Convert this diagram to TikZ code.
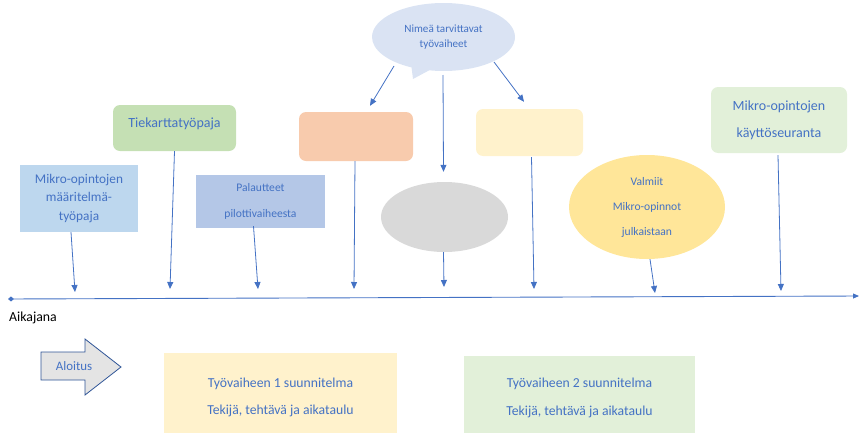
\documentclass[tikz,border=0pt]{standalone}
\usepackage{fontspec}
\setmainfont{Carlito}
\usetikzlibrary{arrows.meta,shapes.geometric,shapes.callouts}
\definecolor{txtblue}{HTML}{4472C4}
\definecolor{cbox1}{HTML}{BDD7EE}
\definecolor{cgreen}{HTML}{C5E0B4}
\definecolor{cpal}{HTML}{B4C7E7}
\definecolor{corange}{HTML}{F8CBAD}
\definecolor{ccall}{HTML}{DAE3F3}
\definecolor{cgray}{HTML}{D9D9D9}
\definecolor{clyellow}{HTML}{FFF2CC}
\definecolor{cyellow}{HTML}{FFE699}
\definecolor{clgreen}{HTML}{E2F0D9}
\definecolor{carrfill}{HTML}{E4E4E4}
\definecolor{carrdraw}{HTML}{2F5597}
\begin{document}
\begin{tikzpicture}[x=1pt,y=-1pt,
  lbl/.style={text=txtblue, align=center, inner sep=0pt},
  boxsq/.style={lbl, rectangle},
  boxrd/.style={lbl, rectangle, rounded corners=7pt},
  conn/.style={draw=txtblue, line width=0.8pt, -{Triangle[width=6pt,length=7pt]}},
]
\useasboundingbox (0,0) rectangle (859,434);

% timeline
\coordinate (tl0) at (8,299);
\coordinate (tl1) at (859,296);
\draw[draw=txtblue, line width=0.9pt, {Diamond[width=5pt,length=6pt]}-{Triangle[width=5pt,length=6pt]}] (tl0) -- (tl1);
\node[anchor=west, inner sep=0pt, font=\fontsize{13.8}{15}\selectfont] (aik) at (9,318) {Aikajana};

% boxes
\node[boxsq, fill=cbox1, minimum width=118pt, minimum height=67pt, font=\fontsize{13.3}{18.5}\selectfont] (b1) at (79,198.5) {Mikro-opintojen\\määritelmä-\\työpaja};
\node[boxrd, fill=cgreen, minimum width=123pt, minimum height=46pt, font=\fontsize{14}{16}\selectfont] (b2) at (174.5,128) {};
\node[lbl, font=\fontsize{14}{16}\selectfont] (b2t) at (174.5,124) {Tiekarttatyöpaja};
\node[boxsq, fill=cpal, minimum width=129pt, minimum height=53pt, font=\fontsize{11.6}{26}\selectfont] (b3) at (260.5,201.5) {Palautteet\\pilottivaiheesta};
\node[boxrd, fill=corange, minimum width=114pt, minimum height=49pt] (b4) at (356,136.5) {};
\node[lbl, ellipse callout, fill=ccall, minimum width=143pt, minimum height=68pt, callout absolute pointer={(413,79)}, font=\fontsize{11.1}{15}\selectfont] (call) at (443.5,37) {Nimeä tarvittavat\\työvaiheet};
\node[lbl, ellipse, fill=cgray, minimum width=127pt, minimum height=70pt] (b5) at (444.5,217) {};
\node[boxrd, fill=clyellow, minimum width=107pt, minimum height=47pt] (b6) at (529.5,132.5) {};
\node[lbl, ellipse, fill=cyellow, minimum width=156pt, minimum height=104pt, font=\fontsize{11.6}{25}\selectfont] (b7) at (647,207) {Valmiit\\Mikro-opinnot\\julkaistaan};
\node[boxrd, fill=clgreen, minimum width=136pt, minimum height=66pt, font=\fontsize{14}{27}\selectfont] (b8) at (779,120) {Mikro-opintojen\\käyttöseuranta};

\node[boxsq, fill=clyellow, minimum width=233pt, minimum height=80pt] (p1) at (280.5,393) {};
\node[lbl, font=\fontsize{13.7}{27}\selectfont] (p1t) at (280.5,397) {Työvaiheen 1 suunnitelma\\Tekijä, tehtävä ja aikataulu};
\node[boxsq, fill=clgreen, minimum width=231pt, minimum height=77pt] (p2) at (579.5,394.5) {};
\node[lbl, font=\fontsize{13.7}{28}\selectfont] (p2t) at (579.5,397.5) {Työvaiheen 2 suunnitelma\\Tekijä, tehtävä ja aikataulu};

% start arrow
\draw[fill=carrfill, draw=carrdraw, line width=0.8pt, line join=miter]
  (41,352) -- (85,352) -- (85,339) -- (121,367) -- (85,395) -- (85,380) -- (41,380) -- cycle;
\node[lbl, font=\fontsize{12.9}{14}\selectfont] (alo) at (74,366) {Aloitus};

% connectors to timeline
\coordinate (e1) at (75,292);
\coordinate (e2) at (170,289);
\coordinate (e3) at (258,289);
\coordinate (e4) at (354,289);
\coordinate (e5) at (444,287);
\coordinate (e6) at (534,289);
\coordinate (e7) at (655,293);
\coordinate (e8) at (781,291);
\draw[conn] ([xshift=-8pt]b1.south) -- (e1);
\draw[conn] (b2.south) -- (e2);
\draw[conn] ([xshift=-7pt,yshift=2pt]b3.south) -- (e3);
\draw[conn] ([xshift=-1pt]b4.south) -- (e4);
\draw[conn] ([xshift=-1pt]b5.south) -- (e5);
\draw[conn] ([xshift=2pt,yshift=-1pt]b6.south) -- (e6);
\draw[conn] ([xshift=3pt]b7.south) -- (e7);
\draw[conn] ([yshift=-2pt,xshift=-1pt]b8.south) -- (e8);

% connectors from callout
\draw[conn] ([xshift=-49.5pt,yshift=-29pt]call.center) -- ([xshift=14pt,yshift=6pt]b4.north);
\draw[conn] ([xshift=-0.5pt,yshift=-38pt]call.center) -- ([xshift=-1pt,yshift=10pt]b5.north);
\draw[conn] ([xshift=50.5pt,yshift=-25pt]call.center) -- ([xshift=-5.5pt,yshift=7pt]b6.north);
\end{tikzpicture}
\end{document}
